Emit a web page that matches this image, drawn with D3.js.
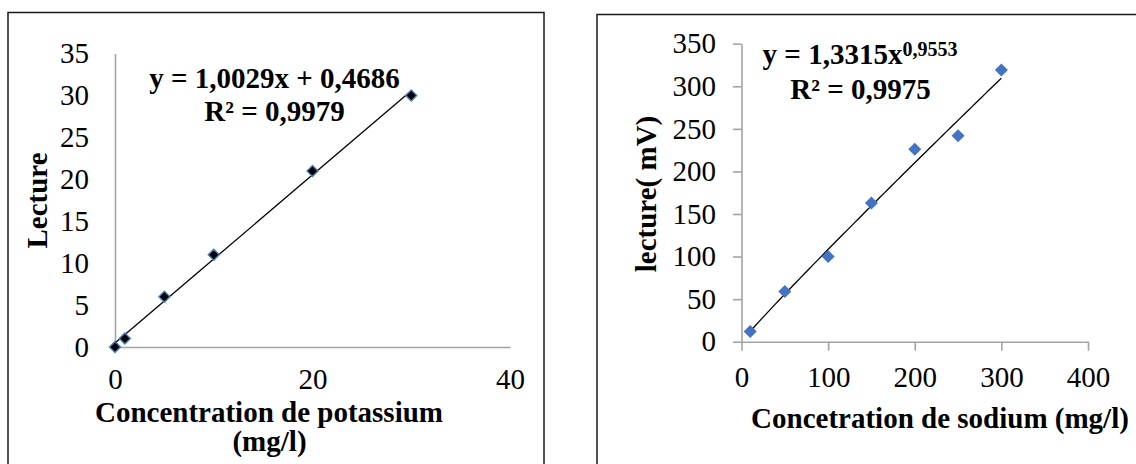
<!DOCTYPE html>
<html>
<head>
<meta charset="utf-8">
<script src="https://cdn.jsdelivr.net/npm/d3@7"></script>
<style>
  html, body { margin: 0; padding: 0; background: #fff; }
  svg { display: block; }
</style>
</head>
<body>
<svg id="chart" width="1136" height="464"></svg>
<script>
// Potassium calibration (left panel)
const kConc = [0, 1, 5, 10, 20, 30];
const kReading = [0, 1, 6, 11, 21, 30];
const kXTicks = [0, 20, 40];
const kYTicks = [0, 5, 10, 15, 20, 25, 30, 35];
const kSlope = 1.0029, kIntercept = 0.4686;

// Sodium calibration (right panel)
const naConc = [10, 50, 100, 150, 200, 250, 300];
const naReading = [12, 59, 100, 163, 226, 242, 319];
const naXTicks = [0, 100, 200, 300, 400];
const naYTicks = [0, 50, 100, 150, 200, 250, 300, 350];
const naCoef = 1.3315, naExp = 0.9553;

const SERIF = "'Liberation Serif', 'Times New Roman', serif";
const AXIS_GREY = "#a3a3a3";
const FS = 29;
const svg = d3.select("#chart");

// Outer frames of the two panels
svg.append("rect").attr("x", 8).attr("y", 12.5).attr("width", 536).attr("height", 480)
  .attr("fill", "none").attr("stroke", "#1a1a1a").attr("stroke-width", 1.5);
svg.append("rect").attr("x", 597).attr("y", 14.5).attr("width", 560).attr("height", 480)
  .attr("fill", "none").attr("stroke", "#1a1a1a").attr("stroke-width", 1.5);

const diamond = r => `M0,${-r}L${r},0L0,${r}L${-r},0Z`;

function styleAxis(g) {
  g.attr("font-family", SERIF).attr("font-size", FS);
  g.select(".domain").attr("stroke", AXIS_GREY).attr("stroke-width", 1.6);
  g.selectAll(".tick line").attr("stroke", AXIS_GREY).attr("stroke-width", 1.6);
  g.selectAll(".tick text").attr("fill", "#000");
}

// ---------- Left panel: potassium ----------
const kx = d3.scaleLinear().domain([0, 40]).range([115, 510]);
const ky = d3.scaleLinear().domain([0, 35]).range([347, 53.5]);

svg.append("g").attr("transform", `translate(0,${ky(0)})`)
  .call(d3.axisBottom(kx).tickValues(kXTicks).tickFormat(d3.format("d"))
    .tickSize(0).tickSizeOuter(0).tickPadding(21.5))
  .call(styleAxis);
svg.append("g").attr("transform", `translate(${kx(0)},0)`)
  .call(d3.axisLeft(ky).tickValues(kYTicks).tickFormat(d3.format("d"))
    .tickSize(0).tickSizeOuter(0).tickPadding(26))
  .call(styleAxis);

// linear trend line
const kLine = d3.line().x(d => kx(d)).y(d => ky(kSlope * d + kIntercept));
svg.append("path").datum([d3.min(kConc), d3.max(kConc)])
  .attr("d", kLine).attr("fill", "none").attr("stroke", "#000").attr("stroke-width", 1.3);

svg.append("g").selectAll("path").data(kConc).join("path")
  .attr("transform", (d, i) => `translate(${kx(d)},${ky(kReading[i])})`)
  .attr("d", diamond(5.5))
  .attr("fill", "#000").attr("stroke", "#4a7ebb").attr("stroke-width", 1.4);

const kEq = svg.append("g").attr("font-family", SERIF).attr("font-weight", "bold")
  .attr("font-size", FS).attr("text-anchor", "middle").attr("fill", "#000");
kEq.append("text").attr("x", 274.5).attr("y", 87.5).text("y = 1,0029x + 0,4686");
kEq.append("text").attr("x", 274.5).attr("y", 120.5).text("R² = 0,9979");

const kTitles = svg.append("g").attr("font-family", SERIF).attr("font-weight", "bold")
  .attr("font-size", FS).attr("text-anchor", "middle").attr("fill", "#000");
kTitles.append("text").attr("x", 269).attr("y", 421.5).text("Concentration de potassium");
kTitles.append("text").attr("x", 269.5).attr("y", 451).text("(mg/l)");
kTitles.append("text").attr("transform", "translate(46.5,200.5) rotate(-90)").text("Lecture");

// ---------- Right panel: sodium ----------
const nx = d3.scaleLinear().domain([0, 400]).range([741.5, 1088]);
const ny = d3.scaleLinear().domain([0, 350]).range([341.7, 43.7]);

svg.append("g").attr("transform", `translate(0,${ny(0)})`)
  .call(d3.axisBottom(nx).tickValues(naXTicks).tickFormat(d3.format("d"))
    .tickSize(9).tickSizeOuter(0).tickPadding(15.5))
  .call(styleAxis);
svg.append("g").attr("transform", `translate(${nx(0)},0)`)
  .call(d3.axisLeft(ny).tickValues(naYTicks).tickFormat(d3.format("d"))
    .tickSize(8.5).tickSizeOuter(0).tickPadding(17))
  .call(styleAxis);

// power trend line y = a·x^b across the measured range
const naXs = d3.range(0, 61).map(i => d3.min(naConc) + (d3.max(naConc) - d3.min(naConc)) * i / 60);
const naLine = d3.line().x(d => nx(d)).y(d => ny(naCoef * Math.pow(d, naExp)));
svg.append("path").datum(naXs)
  .attr("d", naLine).attr("fill", "none").attr("stroke", "#000").attr("stroke-width", 1.3);

svg.append("g").selectAll("path").data(naConc).join("path")
  .attr("transform", (d, i) => `translate(${nx(d)},${ny(naReading[i])})`)
  .attr("d", diamond(6.5))
  .attr("fill", "#4472c4");

const nEq = svg.append("g").attr("font-family", SERIF).attr("font-weight", "bold")
  .attr("text-anchor", "middle").attr("fill", "#000");
const eq1 = nEq.append("text").attr("x", 860).attr("y", 64.3).attr("font-size", FS);
eq1.append("tspan").text("y = 1,3315x");
eq1.append("tspan").attr("dy", -8).attr("font-size", 20).text("0,9553");
nEq.append("text").attr("x", 860.5).attr("y", 99).attr("font-size", FS).text("R² = 0,9975");

const nTitles = svg.append("g").attr("font-family", SERIF).attr("font-weight", "bold")
  .attr("font-size", FS).attr("text-anchor", "middle").attr("fill", "#000");
nTitles.append("text").attr("x", 940).attr("y", 428).text("Concetration de sodium (mg/l)");
nTitles.append("text").attr("transform", "translate(656,194) rotate(-90)").text("lecture( mV)");
</script>
</body>
</html>
